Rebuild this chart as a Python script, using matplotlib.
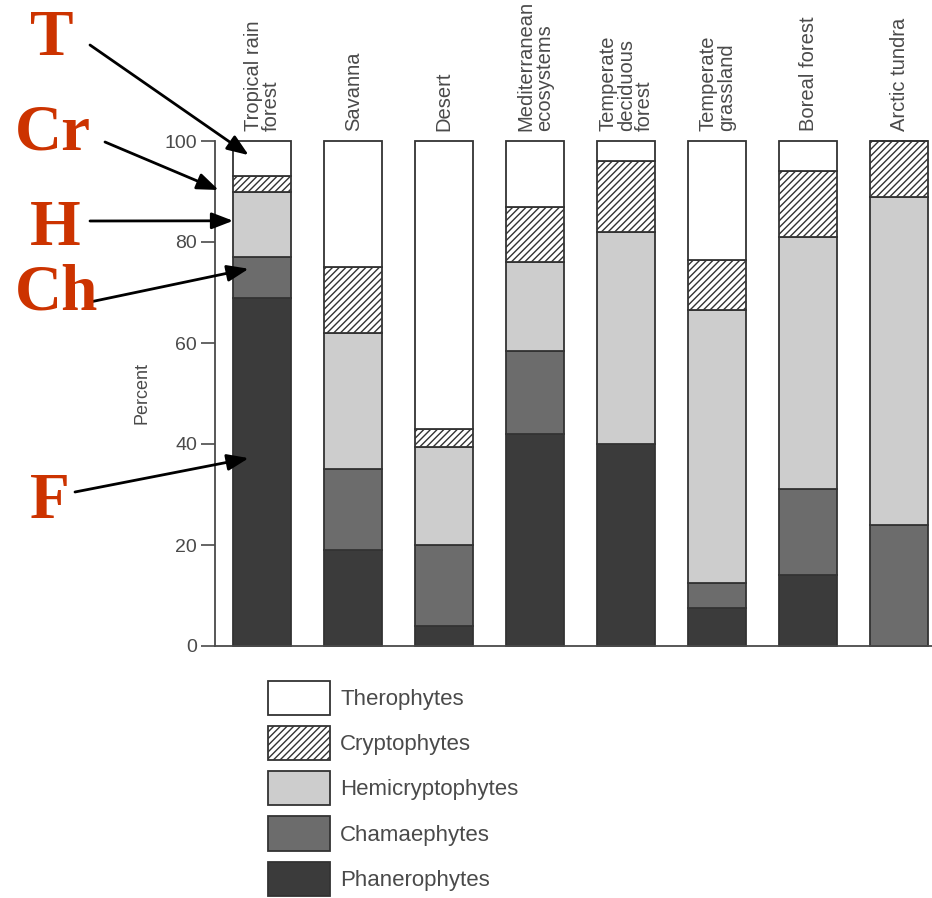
import numpy as np
import matplotlib
matplotlib.use("Agg")
import matplotlib.pyplot as plt
from matplotlib.patches import Patch

# life-form spectra (percent)
biomes = ["Tropical rain\nforest", "Savanna", "Desert", "Mediterranean\necosystems",
          "Temperate\ndeciduous\nforest", "Temperate\ngrassland", "Boreal forest", "Arctic tundra"]
phanerophytes = [69, 19, 4, 42, 40, 7.5, 14, 0]
chamaephytes = [8, 16, 16, 16.5, 0, 5, 17, 24]
hemicryptophytes = [13, 27, 19.5, 17.5, 42, 54, 50, 65]
cryptophytes = [3, 13, 3.5, 11, 14, 10, 13, 11]
therophytes = [7, 25, 57, 13, 4, 23.5, 6, 0]

forms = ["Phanerophytes", "Chamaephytes", "Hemicryptophytes", "Cryptophytes", "Therophytes"]
series = [phanerophytes, chamaephytes, hemicryptophytes, cryptophytes, therophytes]
fills = ["#3b3b3b", "#6c6c6c", "#cdcdcd", "white", "white"]
hatches = [None, None, None, "/////", None]

# red letters on the left and where their arrows point (tropical bar)
letters = ["T", "Cr", "H", "Ch", "F"]
tips_x = [-0.15, -0.48, -0.32, -0.15, -0.15]
tips_y = [97.2, 90.3, 84.2, 74.7, 37.2]

GRAY = "#4a4a4a"
EDGE = "#333333"
plt.rcParams["font.family"] = ["Liberation Sans", "DejaVu Sans"]
plt.rcParams["hatch.linewidth"] = 1.0

fig = plt.figure(figsize=(9.32, 8.98), dpi=100)
ax = fig.add_axes([215 / 932, 252 / 898, 717 / 932, 505 / 898])

x = np.arange(len(biomes))
bottom = np.zeros(len(biomes))
for vals, col, h in zip(series, fills, hatches):
    ax.bar(x, vals, width=0.64, bottom=bottom, color=col, edgecolor=EDGE,
           linewidth=1.3, hatch=h, clip_on=False)
    bottom += np.array(vals)

ax.set_xlim(-0.52, 7.36)
ax.set_ylim(0, 100)
ax.set_yticks([0, 20, 40, 60, 80, 100])
ax.set_xticks([])
ax.tick_params(axis="y", length=10, width=1.2, color=GRAY, labelcolor=GRAY,
               labelsize=14, pad=3)
for s in ["top", "right"]:
    ax.spines[s].set_visible(False)
for s in ["left", "bottom"]:
    ax.spines[s].set_color(GRAY)
    ax.spines[s].set_linewidth(1.3)

ax.set_ylabel("Percent", fontsize=13, color=GRAY)
ax.yaxis.set_label_coords(-0.09, 0.5)

# biome names, rotated above bars
for i, name in enumerate(biomes):
    ax.text(x[i], 1.02, name, transform=ax.get_xaxis_transform(), rotation=90,
            ha="center", va="bottom", multialignment="left", fontsize=14.5,
            color=GRAY, linespacing=0.95)

# legend below the plot
handles = [Patch(facecolor=fills[k], edgecolor=EDGE, hatch=hatches[k], linewidth=1.3)
           for k in range(len(forms) - 1, -1, -1)]
labels = [forms[k] for k in range(len(forms) - 1, -1, -1)]
fig.legend(handles, labels, loc="upper left", bbox_to_anchor=(268 / 932, 1 - 681 / 898),
           frameon=False, fontsize=16, handlelength=2.8, handleheight=1.98,
           labelspacing=0.5, handletextpad=0.45, borderpad=0, borderaxespad=0,
           labelcolor=GRAY)

# red letters with arrows
letter_xy = [(30, 55), (15, 150), (30, 245), (15, 310), (30, 518)]
tails = [(90, 45), (105, 142), (90, 221), (90, 302), (75, 492)]
for lab, (lx, ly), (tx, ty), px, py in zip(letters, letter_xy, tails, tips_x, tips_y):
    fig.text(lx / 932, 1 - ly / 898, lab, ha="left", va="baseline",
             fontsize=47, fontweight="bold", family="Liberation Serif", color="#cc3300")
    ax.annotate("", xy=(px, py), xycoords="data",
                xytext=(tx, 898 - ty), textcoords="figure pixels",
                arrowprops=dict(arrowstyle="-|>,head_length=1.3,head_width=0.5",
                                lw=2, color="black", shrinkA=0, shrinkB=0),
                annotation_clip=False)

fig.savefig("out.png", dpi=100)
